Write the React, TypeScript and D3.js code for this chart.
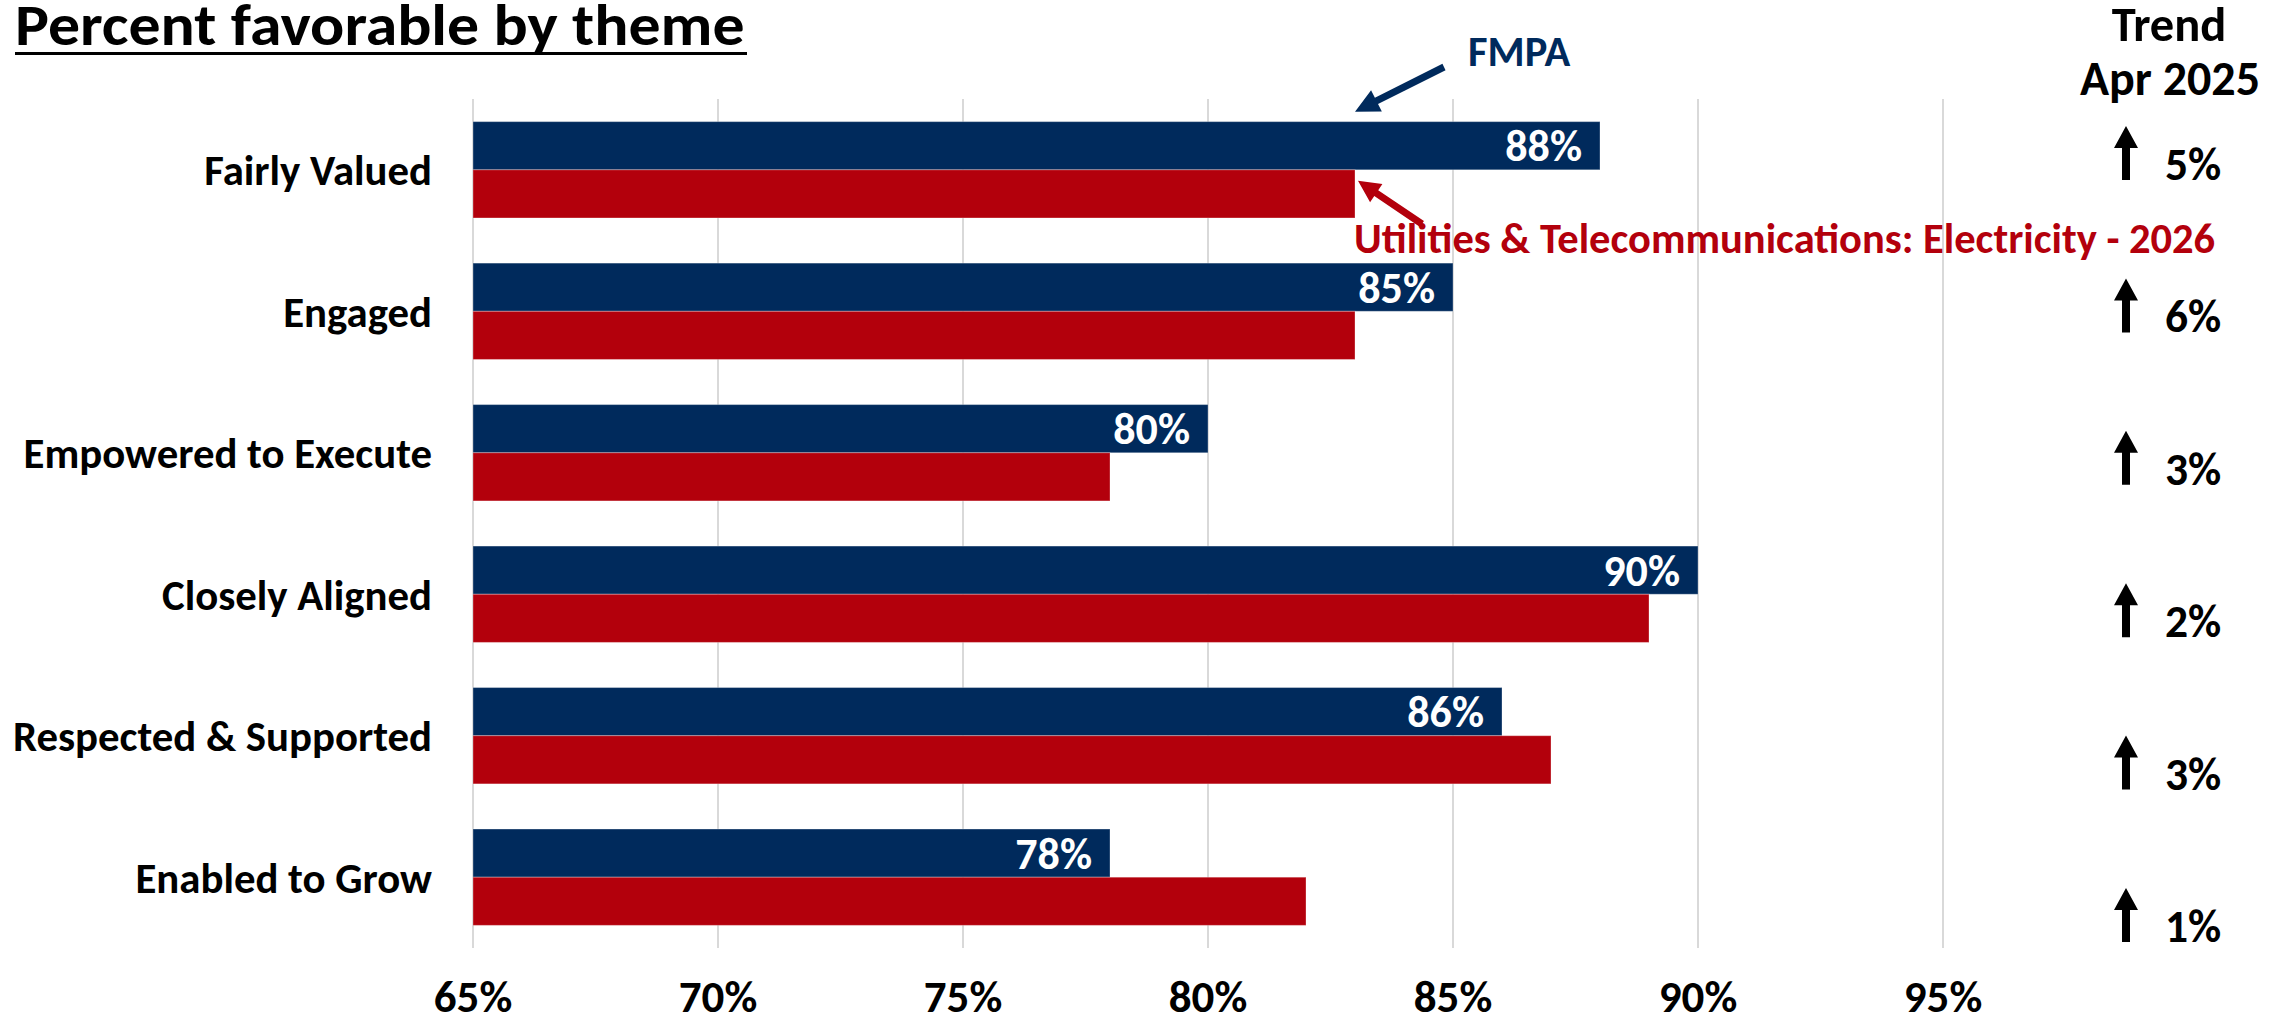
import React from 'react';
import * as d3 from 'd3';

const title = 'Percent favorable by theme';
const categories = [
  'Fairly Valued',
  'Engaged',
  'Empowered to Execute',
  'Closely Aligned',
  'Respected & Supported',
  'Enabled to Grow',
];
const fmpaValues = [88, 85, 80, 90, 86, 78];
const benchmarkValues = [83, 83, 78, 89, 87, 82];
const trendValues = [5, 6, 3, 2, 3, 1];
const xTicks = [65, 70, 75, 80, 85, 90, 95];
const seriesNames = ['FMPA', 'Utilities & Telecommunications: Electricity - 2026'];
const trendHeader = ['Trend', 'Apr 2025'];

const NAVY = '#002A5C';
const RED = '#B3000C';
const FONT = "Carlito, Lato, 'Open Sans', sans-serif";

function arrowPath(tail: [number, number], tip: [number, number], w: number, L: number, hw: number) {
  const dx = tip[0] - tail[0];
  const dy = tip[1] - tail[1];
  const len = Math.hypot(dx, dy);
  const ux = dx / len, uy = dy / len;
  const nx = -uy, ny = ux;
  const bx = tip[0] - ux * L, by = tip[1] - uy * L;
  const pts: [number, number][] = [
    [tail[0] + nx * w / 2, tail[1] + ny * w / 2],
    [bx + nx * w / 2, by + ny * w / 2],
    [bx + nx * hw / 2, by + ny * hw / 2],
    [tip[0], tip[1]],
    [bx - nx * hw / 2, by - ny * hw / 2],
    [bx - nx * w / 2, by - ny * w / 2],
    [tail[0] - nx * w / 2, tail[1] - ny * w / 2],
  ];
  return 'M' + pts.map((p) => p.join(',')).join('L') + 'Z';
}

export default function App() {
  const W = 2288, H = 1022;
  const x = d3.scaleLinear().domain([65, 100]).range([473, 2188]);
  const y = d3.scaleBand<string>().domain(categories).range([99, 948]).paddingInner(0.319).paddingOuter(0.16);
  const ys = d3.scaleBand<string>().domain(['fmpa', 'bench']).range([0, y.bandwidth()]);
  const trendY = d3.scalePoint<string>().domain(categories).range([180, 942]);
  const bh = ys.bandwidth();

  const LABEL = 42.8;
  const capOff = LABEL * 0.717 / 2;

  const firstCat = categories[0];
  const annTipX = x(benchmarkValues[0]);
  const navyTip: [number, number] = [annTipX, (y(firstCat) as number) - 10];
  const redTip: [number, number] = [annTipX + 3, (y(firstCat) as number) + (ys('bench') as number) + 11];

  return (
    <svg width={W} height={H} style={{ position: 'absolute', left: 0, top: 0, background: '#fff' }} fontFamily={FONT} fontWeight="bold">
      {/* title */}
      <g transform="translate(15,45) scale(1.1,1)">
        <text x={0} y={0} fontSize={58} fill="#000">{title}</text>
      </g>
      <line x1={15} x2={747} y1={53.5} y2={53.5} stroke="#000" strokeWidth={3} />

      {/* gridlines */}
      {xTicks.map((t) => (
        <line key={t} x1={x(t)} x2={x(t)} y1={99} y2={948} stroke="#D9D9D9" strokeWidth={2} />
      ))}

      {/* bars */}
      {categories.map((c, i) => (
        <g key={c} transform={`translate(0,${y(c)})`}>
          <rect x={x(65)} y={ys('fmpa')} width={x(fmpaValues[i]) - x(65)} height={bh} fill={NAVY} stroke="rgba(255,255,255,0.3)" strokeWidth={1} />
          <rect x={x(65)} y={ys('bench')} width={x(benchmarkValues[i]) - x(65)} height={bh} fill={RED} stroke="rgba(255,255,255,0.3)" strokeWidth={1} />
          <text x={x(fmpaValues[i]) - 18} y={(ys('fmpa') as number) + bh / 2 + 15.5} fontSize={44} fill="#fff" textAnchor="end">
            {fmpaValues[i]}%
          </text>
          <text x={432} y={y.bandwidth() / 2 + capOff} fontSize={LABEL} fill="#000" textAnchor="end">
            {c}
          </text>
        </g>
      ))}

      {/* x tick labels */}
      {xTicks.map((t) => (
        <text key={t} x={x(t)} y={1012} fontSize={45} textAnchor="middle" fill="#000">{t}%</text>
      ))}

      {/* annotations */}
      <path d={arrowPath([1444, 67], navyTip, 7, 24, 24)} fill={NAVY} />
      <text x={1468} y={66} fontSize={42.5} fill={NAVY}>{seriesNames[0]}</text>
      <path d={arrowPath([1422, 224], redTip, 7, 22, 22)} fill={RED} />
      <text x={1354} y={253} fontSize={42.5} fill={RED}>{seriesNames[1]}</text>

      {/* trend column */}
      <text x={2169} y={41} fontSize={48.5} textAnchor="middle" fill="#000">{trendHeader[0]}</text>
      <text x={2170} y={95} fontSize={48} textAnchor="middle" fill="#000">{trendHeader[1]}</text>
      {categories.map((c, i) => {
        const by = trendY(c) as number;
        return (
          <g key={'t' + c}>
            <path d={arrowPath([2126, by], [2126, by - 54], 8, 22, 24)} fill="#000" />
            <text x={2165} y={by} fontSize={45.5} fill="#000">{trendValues[i]}%</text>
          </g>
        );
      })}
    </svg>
  );
}
